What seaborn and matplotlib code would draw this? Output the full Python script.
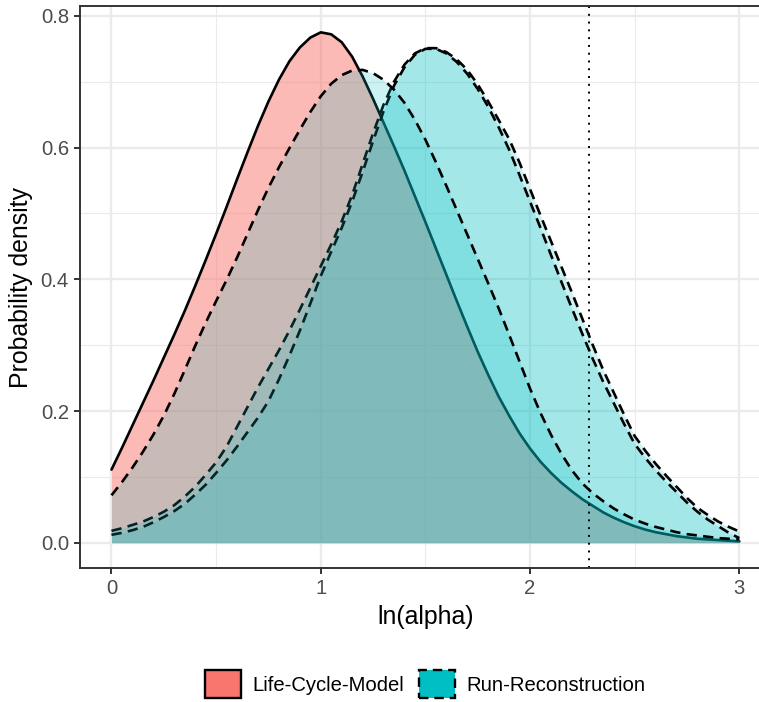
import matplotlib
matplotlib.use("Agg")
import matplotlib.pyplot as plt
from matplotlib.patches import Patch
from matplotlib.ticker import FixedLocator
import pandas as pd
import seaborn as sns

# ---------------- data ----------------
ln_alpha = [0.00, 0.05, 0.10, 0.15, 0.20, 0.25, 0.30, 0.35, 0.40, 0.45,
            0.50, 0.55, 0.60, 0.65, 0.70, 0.75, 0.80, 0.85, 0.90, 0.95,
            1.00, 1.05, 1.10, 1.15, 1.20, 1.25, 1.30, 1.35, 1.40, 1.45,
            1.50, 1.55, 1.60, 1.65, 1.70, 1.75, 1.80, 1.85, 1.90, 1.95,
            2.00, 2.05, 2.10, 2.15, 2.20, 2.25, 2.30, 2.35, 2.40, 2.45,
            2.50, 2.55, 2.60, 2.65, 2.70, 2.75, 2.80, 2.85, 2.90, 2.95,
            3.00]

life_cycle_model = [0.111, 0.144, 0.178, 0.212, 0.246, 0.281, 0.316, 0.352, 0.390, 0.429,
                    0.469, 0.510, 0.552, 0.593, 0.633, 0.670, 0.703, 0.731, 0.752, 0.767,
                    0.775, 0.772, 0.760, 0.738, 0.708, 0.674, 0.638, 0.602, 0.565, 0.526,
                    0.487, 0.447, 0.407, 0.367, 0.328, 0.290, 0.255, 0.222, 0.193, 0.166,
                    0.143, 0.123, 0.106, 0.091, 0.078, 0.066, 0.056, 0.046, 0.038, 0.031,
                    0.025, 0.020, 0.016, 0.013, 0.010, 0.008, 0.006, 0.005, 0.004, 0.003,
                    0.002]

# Run-Reconstruction curves
run_recon_a = [0.072, 0.092, 0.114, 0.138, 0.164, 0.193, 0.226, 0.262, 0.299, 0.334,
               0.367, 0.399, 0.433, 0.469, 0.505, 0.539, 0.570, 0.599, 0.627, 0.654,
               0.678, 0.697, 0.710, 0.717, 0.718, 0.713, 0.703, 0.688, 0.668, 0.642,
               0.612, 0.578, 0.542, 0.505, 0.468, 0.431, 0.394, 0.356, 0.316, 0.275,
               0.234, 0.197, 0.164, 0.135, 0.110, 0.090, 0.075, 0.063, 0.052, 0.043,
               0.035, 0.029, 0.024, 0.020, 0.016, 0.013, 0.011, 0.009, 0.007, 0.006,
               0.005]
run_recon_b = [0.018, 0.022, 0.027, 0.032, 0.039, 0.047, 0.057, 0.070, 0.085, 0.103,
               0.122, 0.146, 0.176, 0.206, 0.236, 0.264, 0.292, 0.322, 0.354, 0.387,
               0.420, 0.453, 0.488, 0.528, 0.575, 0.622, 0.665, 0.700, 0.726, 0.743,
               0.751, 0.751, 0.745, 0.734, 0.718, 0.696, 0.670, 0.642, 0.613, 0.577,
               0.537, 0.497, 0.458, 0.419, 0.380, 0.340, 0.300, 0.262, 0.228, 0.194,
               0.162, 0.140, 0.120, 0.102, 0.085, 0.068, 0.053, 0.042, 0.032, 0.024,
               0.017]
run_recon_c = [0.012, 0.015, 0.019, 0.024, 0.031, 0.039, 0.048, 0.059, 0.073, 0.088,
               0.106, 0.125, 0.146, 0.168, 0.190, 0.215, 0.248, 0.284, 0.322, 0.363,
               0.405, 0.442, 0.478, 0.518, 0.563, 0.610, 0.655, 0.694, 0.722, 0.741,
               0.750, 0.750, 0.743, 0.730, 0.712, 0.689, 0.662, 0.631, 0.597, 0.558,
               0.518, 0.478, 0.437, 0.396, 0.356, 0.317, 0.279, 0.244, 0.212, 0.180,
               0.150, 0.129, 0.110, 0.093, 0.077, 0.061, 0.047, 0.035, 0.025, 0.015,
               0.007]

threshold = 2.283

x_ticks = [0, 1, 2, 3]
x_tick_labels = ["0", "1", "2", "3"]
y_ticks = [0.0, 0.2, 0.4, 0.6, 0.8]
y_tick_labels = ["0.0", "0.2", "0.4", "0.6", "0.8"]
legend_labels = ["Life-Cycle-Model", "Run-Reconstruction"]
x_label = "ln(alpha)"
y_label = "Probability density"

# ---------------- style ----------------
sns.set_theme(style="whitegrid")
plt.rcParams['font.family'] = ['Liberation Sans', 'DejaVu Sans']

RED = '#F8766D'
TEAL = '#00BFC4'
DASH = (0, (3.9, 2.4))

W, H = 759, 702
fig = plt.figure(figsize=(W / 100, H / 100), dpi=100)
fig.patch.set_facecolor('white')
ax = fig.add_axes([80 / W, 1 - 568.2 / H, 690.7 / W, 562.0 / H])
ax.set_facecolor('white')

curves = [
    (life_cycle_model, RED, 0.5, '-'),
    (run_recon_b, TEAL, 0.2, DASH),
    (run_recon_c, TEAL, 0.2, DASH),
    (run_recon_a, TEAL, 0.2, DASH),
]

z = 2
for yvals, col, a, ls in curves:
    df = pd.DataFrame({"x": ln_alpha, "y": yvals})
    ax.fill_between(df["x"], 0, df["y"], color=col, alpha=a, linewidth=0, zorder=z)
    sns.lineplot(data=df, x="x", y="y", ax=ax, color='black', linewidth=1.9,
                 linestyle=ls, zorder=z + 1, errorbar=None)
    z += 2

ax.axvline(threshold, color='black', linewidth=1.4, linestyle=(0, (1, 3)), zorder=20)

# axes limits (ggplot default 5% expansion)
ax.set_xlim(-0.1505, 3.15)
ax.set_ylim(-0.0387, 0.8147)

ax.set_xticks(x_ticks)
ax.set_xticklabels(x_tick_labels)
ax.set_yticks(y_ticks)
ax.set_yticklabels(y_tick_labels)
ax.xaxis.set_minor_locator(FixedLocator([0.5, 1.5, 2.5]))
ax.yaxis.set_minor_locator(FixedLocator([0.1, 0.3, 0.5, 0.7]))

ax.grid(which='major', color='#EBEBEB', linewidth=1.7)
ax.grid(which='minor', color='#EBEBEB', linewidth=0.85)
ax.set_axisbelow(True)

ax.tick_params(which='major', direction='out', length=4.5, width=1.4, color='#333333',
               labelsize=14.6, labelcolor='#4D4D4D', pad=3.5,
               bottom=True, left=True, top=False, right=False)
ax.tick_params(which='minor', length=0)

for sp in ax.spines.values():
    sp.set_visible(True)
    sp.set_color('#333333')
    sp.set_linewidth(1.4)
    sp.set_zorder(30)

ax.set_xlabel(x_label, fontsize=17.9, color='black', labelpad=4.5)
ax.set_ylabel(y_label, fontsize=17.9, color='black', labelpad=5.5)

handles = [
    Patch(facecolor=RED, edgecolor='black', linewidth=1.7, linestyle='-'),
    Patch(facecolor=TEAL, edgecolor='black', linewidth=1.7, linestyle=(0, (4, 2.5))),
]
fig.legend(handles, legend_labels, loc='center', bbox_to_anchor=(425.5 / W, 1 - 684 / H),
           ncol=2, frameon=False, fontsize=14.6, handlelength=1.77, handleheight=1.77,
           handletextpad=0.55, columnspacing=0.75, borderpad=0, borderaxespad=0,
           labelcolor='black')

fig.savefig("out.png", dpi=100, facecolor='white')
